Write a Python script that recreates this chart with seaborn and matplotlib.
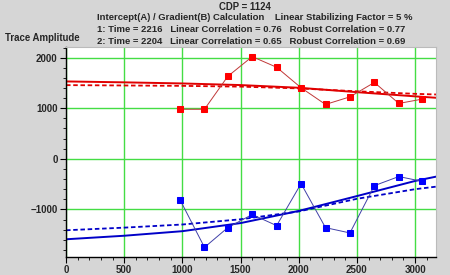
import matplotlib
matplotlib.use("Agg")
import matplotlib.pyplot as plt
import seaborn as sns
import pandas as pd
from matplotlib.ticker import MultipleLocator

sns.set_theme(style="white")
plt.rcParams['font.family'] = ['Liberation Sans', 'DejaVu Sans']

# data
offsets = [980, 1190, 1390, 1600, 1810, 2020, 2230, 2440, 2650, 2860, 3060]
red_amp = [980, 980, 1630, 2020, 1810, 1405, 1075, 1225, 1510, 1095, 1180]
blue_amp = [-810, -1750, -1360, -1100, -1320, -490, -1360, -1465, -530, -350, -445]

fit_x = [0, 500, 1000, 1500, 2000, 2500, 3000, 3180]
red_solid = [1530, 1512, 1490, 1458, 1405, 1318, 1235, 1207]
red_dashed = [1457, 1450, 1442, 1427, 1392, 1335, 1285, 1272]
blue_solid = [-1590, -1520, -1430, -1270, -1030, -736, -437, -352]
blue_dashed = [-1412, -1360, -1298, -1195, -1040, -790, -600, -550]

x_ticks = [0, 500, 1000, 1500, 2000, 2500, 3000]
y_ticks = [-1000, 0, 1000, 2000]

title_lines = [
    "CDP = 1124",
    "Intercept(A) / Gradient(B) Calculation    Linear Stabilizing Factor = 5 %",
    "1: Time = 2216   Linear Correlation = 0.76   Robust Correlation = 0.77",
    "2: Time = 2204   Linear Correlation = 0.65   Robust Correlation = 0.69",
]

pts = pd.DataFrame({"x": offsets, "red": red_amp, "blue": blue_amp})
fits = pd.DataFrame({"x": fit_x, "rs": red_solid, "rd": red_dashed,
                     "bs": blue_solid, "bd": blue_dashed})

bg = "#d6d6d6"
fig = plt.figure(figsize=(4.5, 2.75), dpi=100, facecolor=bg)
ax = fig.add_axes([0.1467, 0.0655, 0.8223, 0.7635])
ax.set_facecolor("white")

grid_c = "#44dd44"
ax.grid(True, which="major", color=grid_c, linewidth=1.0)
ax.set_axisbelow(True)

# fit lines
sns.lineplot(data=fits, x="x", y="rs", ax=ax, color="#e00000", linewidth=1.4)
sns.lineplot(data=fits, x="x", y="rd", ax=ax, color="#e00000", linewidth=1.3,
             linestyle=(0, (2.5, 1.5)))
sns.lineplot(data=fits, x="x", y="bs", ax=ax, color="#0000c8", linewidth=1.4)
sns.lineplot(data=fits, x="x", y="bd", ax=ax, color="#0000c8", linewidth=1.3,
             linestyle=(0, (2.5, 1.5)))

# data points
sns.lineplot(data=pts, x="x", y="red", ax=ax, color="#c03838", linewidth=0.7,
             marker="s", markersize=4.5, markerfacecolor="#ff0000",
             markeredgecolor="#ff0000")
sns.lineplot(data=pts, x="x", y="blue", ax=ax, color="#4040a8", linewidth=0.7,
             marker="s", markersize=4.5, markerfacecolor="#0000ff",
             markeredgecolor="#0000ff")

ax.set_xlim(0, 3180)
ax.set_ylim(-1940, 2210)
ax.set_xticks(x_ticks)
ax.set_yticks(y_ticks)
ax.xaxis.set_minor_locator(MultipleLocator(100))
ax.yaxis.set_minor_locator(MultipleLocator(200))
ax.set_xlabel("")
ax.set_ylabel("")
ax.tick_params(axis="both", which="major", direction="out", length=4,
               width=0.8, color="black", labelsize=7, pad=2,
               bottom=True, left=True)
ax.tick_params(axis="both", which="minor", direction="out", length=2,
               width=0.6, color="black", bottom=True, left=True)
for lab in ax.get_xticklabels() + ax.get_yticklabels():
    lab.set_fontweight("bold")

for s in ["top", "right"]:
    ax.spines[s].set_color("#bbbbbb")
    ax.spines[s].set_linewidth(0.8)
for s in ["left", "bottom"]:
    ax.spines[s].set_color("black")
    ax.spines[s].set_linewidth(1.0)

fig.text(245 / 450, 1 - 7 / 275, title_lines[0], ha="center", va="center",
         fontsize=6.9, fontweight="bold")
for i, line in enumerate(title_lines[1:]):
    fig.text(97 / 450, 1 - (18 + 12 * i) / 275, line, ha="left", va="center",
             fontsize=6.8, fontweight="bold")
fig.text(5 / 450, 1 - 38 / 275, "Trace Amplitude", ha="left", va="center",
         fontsize=6.9, fontweight="bold")

fig.savefig("out.png", dpi=100, facecolor=bg)
